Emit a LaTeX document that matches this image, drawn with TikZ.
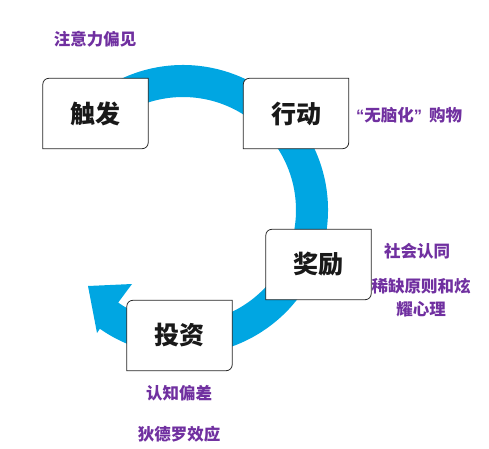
\documentclass[tikz,border=0pt]{standalone}
\usepackage{fontspec}
\setmainfont{Noto Sans CJK SC}
\newfontfamily\quotefont{Liberation Sans}
\usetikzlibrary{calc}
\definecolor{ringblue}{RGB}{0,166,226}
\definecolor{labpurple}{RGB}{112,48,160}
\pgfdeclarelayer{ringlayer}
\pgfdeclarelayer{boxlayer}
\pgfsetlayers{ringlayer,boxlayer,main}
\newcommand\myframe[1]{%
  \draw[boxframe] ($(#1.north west)+(0,-6)$) arc[start angle=180,end angle=90,radius=6]
    -- (#1.north east) -- ($(#1.south east)+(0,6)$) arc[start angle=0,end angle=-90,radius=6]
    -- (#1.south west) -- cycle;}
\begin{document}
\begin{tikzpicture}[x=1pt,y=1pt,
  boxtext/.style={minimum width=105pt,minimum height=70pt,inner sep=0pt,
    font=\fontsize{25}{30}\selectfont\bfseries,text=black!90},
  boxframe/.style={draw=black!85,line width=0.8pt,fill=white},
  lab/.style={font=\fontsize{16.5}{23}\selectfont\bfseries,text=labpurple,align=center,inner sep=0pt}]
\useasboundingbox (0,0) rectangle (489,448);
\coordinate (c) at (183,238);
\node[boxtext] (trig) at (95.5,334.5) {触发};
\node[boxtext] (act) at (296,334.5) {行动};
\node[boxtext] (rew) at (318.5,183.5) {奖励};
\node[boxtext] (inv) at (179.5,112.5) {投资};
\begin{pgfonlayer}{ringlayer}
\fill[ringblue] ($(c)+(125:145)$) arc[start angle=125,end angle=-125,radius=145]
  -- (97,115) -- (88,162) -- (132,164) -- ($(c)+(-125:113)$)
  arc[start angle=-125,end angle=125,radius=113] -- cycle;
\end{pgfonlayer}
\begin{pgfonlayer}{boxlayer}
\myframe{trig}
\myframe{act}
\myframe{rew}
\myframe{inv}
\end{pgfonlayer}
\node[lab] (l1) at (95,409) {注意力偏见};
\node[lab] (l2) at (409,333) {{\quotefont“}无脑化{\quotefont”}\hspace{7pt}购物};
\node[lab] (l3) at (417,197) {社会认同};
\node[lab] (l4) at (421,150.5) {稀缺原则和炫\\耀心理};
\node[lab] (l5) at (179,55) {认知偏差};
\node[lab] (l6) at (179,14) {狄德罗效应};
\end{tikzpicture}
\end{document}
